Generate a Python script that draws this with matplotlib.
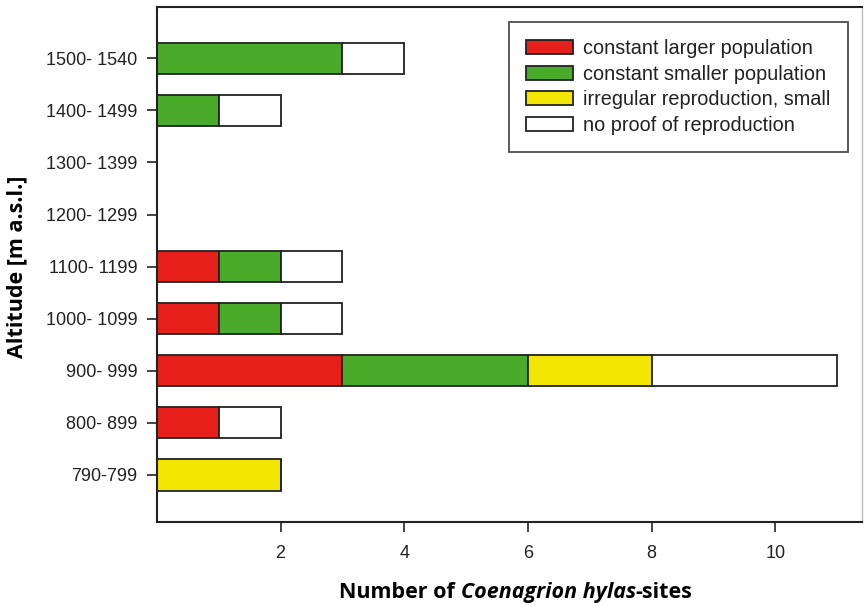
import matplotlib
matplotlib.use("Agg")
import matplotlib.pyplot as plt
import numpy as np

categories = ["790-799", "800- 899", "900- 999", "1000- 1099", "1100- 1199",
              "1200- 1299", "1300- 1399", "1400- 1499", "1500- 1540"]
constant_larger = [0, 1, 3, 1, 1, 0, 0, 0, 0]
constant_smaller = [0, 0, 3, 1, 1, 0, 0, 1, 3]
irregular_small = [2, 0, 2, 0, 0, 0, 0, 0, 0]
no_proof = [0, 1, 3, 1, 1, 0, 0, 1, 1]

series = [
    ("constant larger population", constant_larger, "#e8201c"),
    ("constant smaller population", constant_smaller, "#4aaa2a"),
    ("irregular reproduction, small", irregular_small, "#f2e600"),
    ("no proof of reproduction", no_proof, "#ffffff"),
]
xticks = [2, 4, 6, 8, 10]

plt.rcParams['font.family'] = ['Liberation Sans', 'DejaVu Sans']

fig = plt.figure(figsize=(8.67, 6.06), dpi=100)
ax = fig.add_axes([0.181, 0.139, 0.813, 0.849])

y = np.arange(len(categories))
left = np.zeros(len(categories))
for label, vals, color in series:
    vals = np.array(vals, dtype=float)
    ax.barh(y, vals, left=left, height=0.6, color=color, edgecolor="#222222",
            linewidth=1.3, label=label)
    left += vals

ax.set_xlim(0, 11.4)
ax.set_ylim(-0.9, 8.98)
ax.set_yticks(y)
ax.set_yticklabels(categories, fontsize=13, color="#222222")
ax.set_xticks(xticks)
ax.set_xticklabels([str(t) for t in xticks], fontsize=13, color="#222222")
ax.tick_params(axis='both', direction='out', length=7, width=1.2, color="#222222")
ax.tick_params(axis='x', pad=10)
ax.tick_params(axis='y', pad=7)
for s in ['left', 'bottom', 'top']:
    ax.spines[s].set_linewidth(1.5)
    ax.spines[s].set_color("#222222")
ax.spines['right'].set_linewidth(1.0)
ax.spines['right'].set_color("#bbbbbb")

leg = ax.legend(loc='upper right', bbox_to_anchor=(0.980, 0.971), fontsize=14.3,
                frameon=True, fancybox=False, edgecolor="#222222",
                handlelength=2.35, handleheight=0.72, borderpad=0.85,
                labelspacing=0.33, handletextpad=0.55, borderaxespad=0)
leg.get_frame().set_linewidth(1.3)
for t in leg.get_texts():
    t.set_color("#222222")

# y label
fig.text(0.019, 0.56, "Altitude [m a.s.l.]", rotation=90, ha='center', va='center',
         fontsize=15.5, fontweight='bold', family=['Open Sans', 'DejaVu Sans'])

# x label with italic part
fig.canvas.draw()
renderer = fig.canvas.get_renderer()
parts = [("Number of ", 'normal'), ("Coenagrion hylas", 'italic'), ("-sites", 'normal')]
texts = []
widths = []
for s, style in parts:
    t = fig.text(0, 0, s, fontsize=15.5, fontweight='bold', style=style,
                 family=['Open Sans', 'DejaVu Sans'], va='baseline', ha='left')
    texts.append(t)
fig.canvas.draw()
for t in texts:
    bb = t.get_window_extent(renderer)
    widths.append(bb.width)
total = sum(widths)
cx = 516
xpix = cx - total / 2
ybase = 606 - 598
for t, w in zip(texts, widths):
    t.set_position((xpix / 867, ybase / 606))
    xpix += w

fig.savefig("out.png", dpi=100)
